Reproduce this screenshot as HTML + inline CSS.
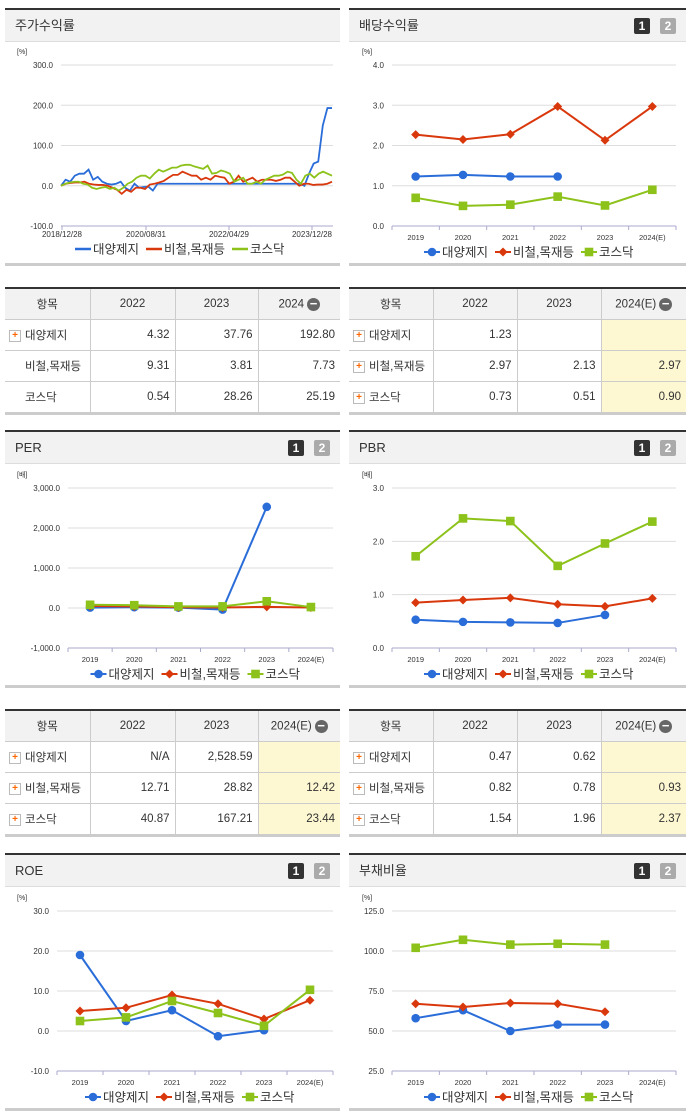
<!DOCTYPE html>
<html><head><meta charset="utf-8">
<style>
body{margin:0;width:691px;height:1115px;background:#fff;position:relative;overflow:hidden;font-family:"Liberation Sans","Noto Sans CJK KR",sans-serif;color:#333}
.panel{position:absolute;height:258px;border-top:2px solid #333;box-sizing:border-box;border-bottom:3px solid #ccc}
.hdr{height:31px;background:#f2f2f2;border-bottom:1px solid #ddd;font-size:13px;line-height:31px;padding-left:10px;position:relative}
.b1,.b2{position:absolute;top:8px;width:16px;height:16px;color:#fff;font-weight:bold;font-size:12px;line-height:16px;text-align:center;border-radius:2px}
.b1{background:#333;right:36px}.b2{background:#aaa;right:10px}
table{position:absolute;border-collapse:collapse;font-size:11.5px;border-top:2px solid #333;border-bottom:3px solid #ccc;table-layout:fixed}
td,th{border:1px solid #ccc;height:30px;padding:0 5px;font-weight:normal}
th{background:#f2f2f2;text-align:center}
td{text-align:right}
td.n{text-align:left;padding-left:4px}
tr>*:first-child{border-left:none}tr>*:last-child{border-right:none}
.y{background:#fdf8d2}
.pl{display:inline-block;width:10px;height:10px;border:1px solid #bbb;background:#fff;color:#f60;font-size:10px;line-height:10px;text-align:center;font-weight:bold;vertical-align:middle;margin-right:4px}
.mi{display:inline-block;width:13px;height:13px;border-radius:50%;background:#666;color:#fff;font-weight:bold;line-height:12px;font-size:13px;vertical-align:middle;margin-left:3px}
svg{position:absolute;left:0;top:0}
</style></head><body>
<div class="panel" style="left:5px;top:8px;width:335px"><div class="hdr">주가수익률</div></div>
<div class="panel" style="left:349px;top:8px;width:337px"><div class="hdr">배당수익률<span class="b1">1</span><span class="b2">2</span></div></div>
<div class="panel" style="left:5px;top:430px;width:335px"><div class="hdr">PER<span class="b1">1</span><span class="b2">2</span></div></div>
<div class="panel" style="left:349px;top:430px;width:337px"><div class="hdr">PBR<span class="b1">1</span><span class="b2">2</span></div></div>
<div class="panel" style="left:5px;top:853px;width:335px"><div class="hdr">ROE<span class="b1">1</span><span class="b2">2</span></div></div>
<div class="panel" style="left:349px;top:853px;width:337px"><div class="hdr">부채비율<span class="b1">1</span><span class="b2">2</span></div></div>

<table style="left:5px;top:287px;width:335px">
<colgroup><col style="width:85px"><col style="width:85px"><col style="width:83px"><col></colgroup>
<tr><th>항목</th><th>2022</th><th>2023</th><th>2024<span class="mi">−</span></th></tr>
<tr><td class="n"><span class="pl">+</span>대양제지</td><td>4.32</td><td>37.76</td><td>192.80</td></tr>
<tr><td class="n" style="padding-left:20px">비철,목재등</td><td>9.31</td><td>3.81</td><td>7.73</td></tr>
<tr><td class="n" style="padding-left:20px">코스닥</td><td>0.54</td><td>28.26</td><td>25.19</td></tr></table>
<table style="left:349px;top:287px;width:337px">
<colgroup><col style="width:84px"><col style="width:84px"><col style="width:84px"><col></colgroup>
<tr><th>항목</th><th>2022</th><th>2023</th><th>2024(E)<span class="mi">−</span></th></tr>
<tr><td class="n"><span class="pl">+</span>대양제지</td><td>1.23</td><td></td><td class="y"></td></tr>
<tr><td class="n"><span class="pl">+</span>비철,목재등</td><td>2.97</td><td>2.13</td><td class="y">2.97</td></tr>
<tr><td class="n"><span class="pl">+</span>코스닥</td><td>0.73</td><td>0.51</td><td class="y">0.90</td></tr></table>
<table style="left:5px;top:709px;width:335px">
<colgroup><col style="width:85px"><col style="width:85px"><col style="width:83px"><col></colgroup>
<tr><th>항목</th><th>2022</th><th>2023</th><th>2024(E)<span class="mi">−</span></th></tr>
<tr><td class="n"><span class="pl">+</span>대양제지</td><td>N/A</td><td>2,528.59</td><td class="y"></td></tr>
<tr><td class="n"><span class="pl">+</span>비철,목재등</td><td>12.71</td><td>28.82</td><td class="y">12.42</td></tr>
<tr><td class="n"><span class="pl">+</span>코스닥</td><td>40.87</td><td>167.21</td><td class="y">23.44</td></tr></table>
<table style="left:349px;top:709px;width:337px">
<colgroup><col style="width:84px"><col style="width:84px"><col style="width:84px"><col></colgroup>
<tr><th>항목</th><th>2022</th><th>2023</th><th>2024(E)<span class="mi">−</span></th></tr>
<tr><td class="n"><span class="pl">+</span>대양제지</td><td>0.47</td><td>0.62</td><td class="y"></td></tr>
<tr><td class="n"><span class="pl">+</span>비철,목재등</td><td>0.82</td><td>0.78</td><td class="y">0.93</td></tr>
<tr><td class="n"><span class="pl">+</span>코스닥</td><td>1.54</td><td>1.96</td><td class="y">2.37</td></tr></table>

<svg id="s" width="691" height="1115"></svg>
<script>
const seriesNames=["대양제지","비철,목재등","코스닥"];
const colors=["#2a6dd9","#d9380d","#8cc21a"];
const years=["2019","2020","2021","2022","2023","2024(E)"];
const stockDates=["2018/12/28","2020/08/31","2022/04/29","2023/12/28"];
const stockA=[0,15,10,25,30,30,40,15,22,10,5,3,5,10,-5,-12,5,-5,-3,-2,-12,5,5,5,5,5,5,5,5,5,5,5,5,5,5,5,5,5,5,5,5,5,5,5,5,5,5,5,5,5,5,5,5,0,30,55,60,150,193,193];
const stockB=[0,5,7,8,8,10,5,3,2,2,0,-5,-10,-20,-10,-15,-5,-5,-8,3,5,8,12,20,27,27,35,30,25,25,15,20,15,25,22,20,5,10,25,10,15,20,10,15,15,15,12,15,20,20,10,0,5,5,2,3,3,5,10];
const stockC=[0,5,8,10,10,5,3,-5,-8,-5,-3,-8,-5,-12,-5,5,10,20,25,25,18,30,40,35,40,45,45,50,52,52,48,45,42,50,30,32,38,35,30,10,15,20,5,5,10,5,15,20,25,25,28,35,32,15,5,25,30,20,30,35,30,25];
const divA=[1.23,1.27,1.23,1.23,null,null],divB=[2.27,2.15,2.28,2.97,2.13,2.97],divC=[0.70,0.50,0.53,0.73,0.51,0.90];
const perA=[10,20,10,-40,2528.59,null],perB=[50,40,20,12.71,28.82,12.42],perC=[80,70,40,40.87,167.21,23.44];
const pbrA=[0.53,0.49,0.48,0.47,0.62,null],pbrB=[0.85,0.90,0.94,0.82,0.78,0.93],pbrC=[1.72,2.43,2.38,1.54,1.96,2.37];
const roeA=[19,2.5,5.2,-1.3,0.2,null],roeB=[5,5.8,9,6.8,3,7.7],roeC=[2.5,3.4,7.5,4.5,1.3,10.3];
const debtA=[58,63,50,54,54,null],debtB=[67,65,67.5,67,62,null],debtC=[102,107,104,104.5,104,null];
const divTicks=["0.0","1.0","2.0","3.0","4.0"],perTicks=["-1,000.0","0.0","1,000.0","2,000.0","3,000.0"],pbrTicks=["0.0","1.0","2.0","3.0"],roeTicks=["-10.0","0.0","10.0","20.0","30.0"],debtTicks=["25.0","50.0","75.0","100.0","125.0"],stockTicks=["-100.0","0.0","100.0","200.0","300.0"];
const S=document.getElementById('s'),NS="http://www.w3.org/2000/svg";
function el(t,a,p){const e=document.createElementNS(NS,t);for(const k in a)e.setAttribute(k,a[k]);(p||S).appendChild(e);return e;}
function txt(x,y,s,sz,anc,fill){const e=el('text',{x:x,y:y,'font-size':sz,'text-anchor':anc,fill:fill||'#333'});e.textContent=s;return e;}
function marker(i,x,y){let m;
 if(i==0)m=el('circle',{cx:x,cy:y,r:4.3,fill:colors[0]});
 else if(i==1)m=el('path',{d:`M${x} ${y-4.5}L${x+4.5} ${y}L${x} ${y+4.5}L${x-4.5} ${y}Z`,fill:colors[1]});
 else m=el('rect',{x:x-4.3,y:y-4.3,width:8.6,height:8.6,fill:colors[2]});
 
 }
function frame(c){const ys=v=>c.bot-(v-c.min)/(c.max-c.min)*(c.bot-c.top);
 c.ticks.forEach(t=>{const v=parseFloat(t.replace(/,/g,''));const y=ys(v);
  el('line',{x1:c.l,x2:c.r,y1:y,y2:y,stroke:'#ddd'});
  const tl=txt(c.l-8,y+3,t,8,'end');});
 txt(c.ux,c.top-11,c.unit,7,'start');
 el('line',{x1:c.l,x2:c.r,y1:c.bot,y2:c.bot,stroke:'#aac'});
 return ys;}
function legend(cx,y,markerStyle){const w=[71,86,55];let x=cx-105;
 for(let i=0;i<3;i++){
  if(markerStyle){el('line',{x1:x,x2:x+16,y1:y,y2:y,stroke:colors[i],'stroke-width':2});marker(i,x+8,y);}
  else el('line',{x1:x,x2:x+16,y1:y,y2:y,stroke:colors[i],'stroke-width':2.5});
  const t=txt(x+18,y+4.5,seriesNames[i],12.5,'start');
  x+=w[i];}}
function catChart(c,data){const ys=frame(c);const bw=(c.r-c.l)/years.length;
 years.forEach((yr,i)=>{const x=c.l+bw*(i+0.5);el('line',{x1:c.l+bw*i,x2:c.l+bw*i,y1:c.bot,y2:c.bot+4,stroke:'#aac'});
  const t=txt(x,c.bot+14,yr,7.5,'middle');});
 el('line',{x1:c.r,x2:c.r,y1:c.bot,y2:c.bot+4,stroke:'#aac'});
 data.forEach((d,si)=>{let pts=[];d.forEach((v,i)=>{if(v!=null)pts.push([c.l+bw*(i+0.5),ys(v)]);});
  const p=el('polyline',{points:pts.map(q=>q.join(',')).join(' '),fill:'none',stroke:colors[si],'stroke-width':2});
  
  pts.forEach(q=>marker(si,q[0],q[1]));});
 legend((c.l+c.r)/2-5,c.bot+26,true);}
(function(){const c={l:61,r:333,top:65,bot:226,min:-100,max:300,ticks:stockTicks,unit:'[%]',ux:17};const ys=frame(c);
 const tx=[62,146,229,312];stockDates.forEach((d,i)=>{el('line',{x1:tx[i],x2:tx[i],y1:c.bot,y2:c.bot+4,stroke:'#aac'});
  const t=txt(tx[i],c.bot+11,d,8,'middle');});
 [stockA,stockB,stockC].forEach((d,si)=>{const pts=d.map((v,i)=>[c.l+(c.r-c.l-1)*i/(d.length-1),ys(v)]);
  const p=el('polyline',{points:pts.map(q=>q.join(',')).join(' '),fill:'none',stroke:colors[si],'stroke-width':1.8});
  });
 legend(180,249,false);})();
catChart({l:392,r:676,top:65,bot:226,min:0,max:4,ticks:divTicks,unit:'[%]',ux:362},[divA,divB,divC]);
catChart({l:68,r:333,top:488,bot:648,min:-1000,max:3000,ticks:perTicks,unit:'[배]',ux:17},[perA,perB,perC]);
catChart({l:392,r:676,top:488,bot:648,min:0,max:3,ticks:pbrTicks,unit:'[배]',ux:362},[pbrA,pbrB,pbrC]);
catChart({l:57,r:333,top:911,bot:1071,min:-10,max:30,ticks:roeTicks,unit:'[%]',ux:17},[roeA,roeB,roeC]);
catChart({l:392,r:676,top:911,bot:1071,min:25,max:125,ticks:debtTicks,unit:'[%]',ux:362},[debtA,debtB,debtC]);
</script>
</body></html>
